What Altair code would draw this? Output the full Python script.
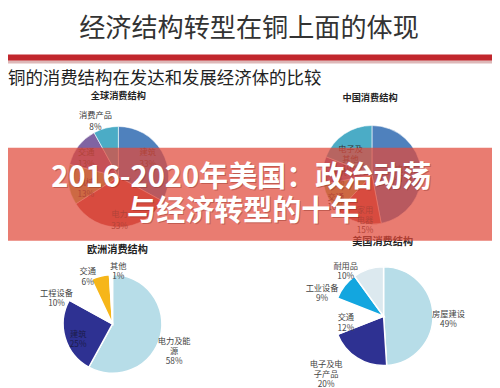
import math
import altair as alt
import pandas as pd

W, H = 500, 388
OFF = 8  # page margin of the html page

# ---------------- data ----------------
global_names = ["建筑", "电力", "机械", "交通", "消费产品"]
global_values = [33, 33, 13, 13, 8]
global_display = ["建筑", "电力", "机械", "交通", "消费产品"]

china_names = ["电力", "家用电器", "交通", "建筑", "电子及其他"]
china_values = [47, 15, 10, 9, 19]
china_display = ["电力", "家用\n电器", "交通", "建筑", "电子及\n其他"]

europe_names = ["电力及能源", "建筑", "工程设备", "交通", "其他"]
europe_values = [58, 25, 10, 6, 1]
europe_display = ["电力及能\n源", "建筑", "工程设备", "交通", "其他"]

us_names = ["房屋建设", "电子及电子产品", "交通", "工业设备", "耐用品"]
us_values = [49, 20, 12, 9, 10]
us_display = ["房屋建设", "电子及电\n子产品", "交通", "工业设备", "耐用品"]

pie_titles = ["全球消费结构", "中国消费结构", "欧洲消费结构", "美国消费结构"]
main_title = "经济结构转型在铜上面的体现"
subtitle = "铜的消费结构在发达和发展经济体的比较"
banner_lines = ["2016-2020年美国：政治动荡", "与经济转型的十年"]

# ---------------- layout / style ----------------
FONT = "Noto Sans CJK SC"
xs = alt.Scale(domain=[OFF, W + OFF], range=[0, W], nice=False, zero=False)
ys = alt.Scale(domain=[OFF, H + OFF], range=[0, H], nice=False, zero=False)

excel = ["#4F81BD", "#C0504D", "#9BBB59", "#8064A2", "#4BACC6"]
pies = [
    dict(names=global_names, values=global_values, display=global_display,
         cx=122, cy=176, r=52, colors=excel, stroke="#ffffff", sw=0.6,
         lr=[40, 38, 34, 42, 68], nudge=[-10, 0, 0, 0, -6],
         lcol=["#333333"] * 5, lsize=8.5, lh=12.5,
         title_xy=(122, 93), tsize=9.5),
    dict(names=china_names, values=china_values, display=china_display,
         cx=384, cy=174, r=51, colors=excel, stroke="#ffffff", sw=0.6,
         lr=[33, 37, 44, 35, 35], nudge=[-5, -5, -3, 0, -5],
         lcol=["#333333"] * 5, lsize=8.5, lh=10.5,
         title_xy=(382, 95), tsize=9.5),
    dict(names=europe_names, values=europe_values, display=europe_display,
         cx=116, cy=328, r=51,
         colors=["#B7DDE8", "#2E3192", "#FFFFFF", "#F6B619", "#FFFFFF"],
         stroke="#ffffff", sw=1.5,
         lr=[66, 37, 66, 60, 60], nudge=[1, 0, -18, -11, 7.5],
         lcol=["#444444", "#1c1c4a", "#444444", "#444444", "#444444"],
         lsize=8.5, lh=10.5,
         title_xy=(121, 252), tsize=10.5),
    dict(names=us_names, values=us_values, display=us_display,
         cx=396, cy=320, r=51,
         colors=["#B7DDE8", "#2E3192", "#FFFFFF", "#13A6DF", "#DCE9EF"],
         stroke="#ffffff", sw=1.5,
         lr=[67, 77, 39, 70, 65], nudge=[0, 18, -2, -13, -19],
         lcol=["#444444"] * 5, lsize=8.5, lh=10.5,
         title_xy=(395, 243), tsize=10.5),
]


def text_layer(df, size, weight="normal", color="#333333", align="center",
               line_height=None, opacity=1.0):
    kw = dict(font=FONT, fontSize=size, fontWeight=weight, align=align,
              baseline="middle", lineBreak="\n", opacity=opacity)
    if line_height:
        kw["lineHeight"] = line_height
    return alt.Chart(df).mark_text(**kw).encode(
        x=alt.X("x:Q", scale=xs, axis=None),
        y=alt.Y("y:Q", scale=ys, axis=None),
        text="t:N",
        color=alt.Color("c:N", scale=None) if "c" in df else alt.value(color),
    )


def rect_layer(x, x2, y, y2, color, opacity=1.0):
    df = pd.DataFrame({"x": [x], "x2": [x2], "y": [y], "y2": [y2]})
    return alt.Chart(df).mark_rect(color=color, opacity=opacity).encode(
        x=alt.X("x:Q", scale=xs, axis=None), x2="x2:Q",
        y=alt.Y("y:Q", scale=ys, axis=None), y2="y2:Q",
    )


layers = []

# header
layers.append(text_layer(pd.DataFrame({"t": [main_title], "x": [257], "y": [24]}),
                         27, color="#333333"))
layers.append(rect_layer(-10, 520, 49.5, 56, "#C1272D"))
layers.append(rect_layer(-10, 520, 56, 59, "#DDB8B8"))
layers.append(text_layer(pd.DataFrame({"t": [subtitle], "x": [8], "y": [75]}),
                         18, color="#222222", align="left"))

# pies
for p, title in zip(pies, pie_titles):
    n = len(p["values"])
    total = sum(p["values"])
    cum, mids = 0, []
    for v in p["values"]:
        mids.append((cum + v / 2) / total * 360)
        cum += v
    df = pd.DataFrame({
        "idx": list(range(n)),
        "name": p["names"],
        "value": p["values"],
        "color": p["colors"],
        "cx": [p["cx"]] * n,
        "cy": [p["cy"]] * n,
    })
    arc = alt.Chart(df).mark_arc(radius=p["r"], stroke=p["stroke"],
                                 strokeWidth=p["sw"]).encode(
        theta=alt.Theta("value:Q", stack=True),
        order=alt.Order("idx:Q"),
        color=alt.Color("color:N", scale=None),
        x=alt.X("cx:Q", scale=xs, axis=None),
        y=alt.Y("cy:Q", scale=ys, axis=None),
    )
    layers.append(arc)

    lx, ly, lt = [], [], []
    for i in range(n):
        a = math.radians(mids[i] + p["nudge"][i])
        lx.append(p["cx"] + p["lr"][i] * math.sin(a))
        ly.append(p["cy"] - p["lr"][i] * math.cos(a))
        lt.append(f'{p["display"][i]}\n{p["values"][i]}%')
    ldf = pd.DataFrame({"t": lt, "x": lx, "y": ly, "c": p["lcol"]})
    layers.append(text_layer(ldf, p["lsize"], line_height=p["lh"]))

    tx, ty = p["title_xy"]
    layers.append(text_layer(pd.DataFrame({"t": [title], "x": [tx], "y": [ty]}),
                             p["tsize"], weight="bold", color="#222222"))

# banner overlay
layers.append(rect_layer(-10, 520, 146, 242, "#E0493A", opacity=0.72))
bdf = pd.DataFrame({"t": banner_lines, "x": [249, 251], "y": [178, 213]})
bshadow = bdf.assign(x=bdf["x"] + 1, y=bdf["y"] + 1)
layers.append(text_layer(bshadow, 30, weight="bold", color="#7a2218", opacity=0.35))
layers.append(text_layer(bdf, 30, weight="bold", color="#ffffff"))

chart = alt.layer(*layers).properties(
    width=W, height=H,
    autosize=alt.AutoSizeParams(type="none"),
    padding=0,
    background="#ffffff",
).configure_view(stroke=None)

chart.save("out.html", embed_options={"renderer": "svg", "actions": False})
